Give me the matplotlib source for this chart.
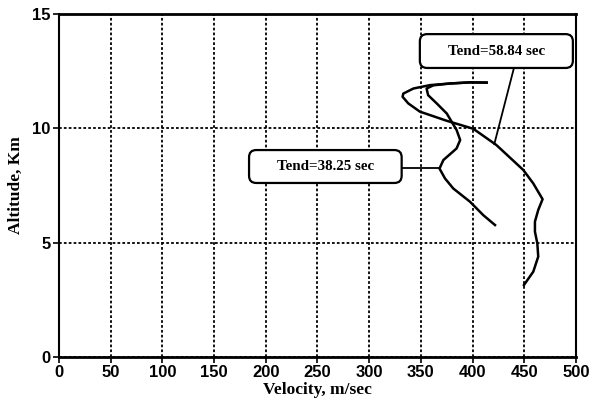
import matplotlib.pyplot as plt
from matplotlib.patches import FancyBboxPatch

# trajectory, Tend = 58.84 sec
vel_long = [413.6, 397.5, 378, 358.8, 342.7, 333, 332.3, 337.8, 349, 375, 400.7,
            423, 449, 458.7, 467.7, 463.5, 460.3, 460.3, 462.6, 463.5, 458.7, 449.7]
alt_long = [12.0, 12.01, 11.96, 11.89, 11.74, 11.52, 11.38, 11.09, 10.73, 10.33, 9.98,
            9.27, 8.18, 7.59, 6.9, 6.43, 5.92, 5.48, 4.97, 4.39, 3.73, 3.15]

# trajectory, Tend = 38.25 sec
vel_short = [413.6, 397.5, 378, 362, 355.5, 357, 365.3, 375, 384.5, 388, 384.5,
             371.7, 368, 373.3, 381.3, 397.5, 410.4, 421.7]
alt_short = [12.0, 12.01, 11.96, 11.88, 11.74, 11.45, 11.09, 10.65, 9.93, 9.49, 9.12,
             8.61, 8.24, 7.81, 7.37, 6.79, 6.2, 5.77]

labels = ["Tend=58.84 sec", "Tend=38.25 sec"]
# box (x0, y0, x1, y1) in data units, and leader line (from, to)
boxes = [(349, 12.64, 497, 14.12), (183.8, 7.61, 331.4, 9.05)]
leaders = [((440, 12.64), (421, 9.31)), ((331.4, 8.28), (367.8, 8.28))]

xticks = [0, 50, 100, 150, 200, 250, 300, 350, 400, 450, 500]
yticks = [0, 5, 10, 15]

fig = plt.figure(figsize=(5.93, 4.07), dpi=100)
ax = fig.add_axes([0.0995, 0.1229, 0.8718, 0.8427])

ax.plot(vel_long, alt_long, color="black", lw=1.8, solid_joinstyle="round")
ax.plot(vel_short, alt_short, color="black", lw=1.8, solid_joinstyle="round")

ax.set_xlim(0, 500)
ax.set_ylim(0, 15)
ax.set_xticks(xticks)
ax.set_yticks(yticks)
ax.grid(True, color="black", linestyle=(0, (1.5, 1.2)), linewidth=1.3)

tick_font = dict(family="Liberation Sans", weight="bold", size=12)
ax.set_xticklabels([str(t) for t in xticks], fontdict=tick_font)
ax.set_yticklabels([str(t) for t in yticks], fontdict=tick_font)
ax.tick_params(direction="out", length=4, width=1.2, pad=2)

for side in ["left", "right"]:
    ax.spines[side].set_linewidth(1.5)
for side in ["top", "bottom"]:
    ax.spines[side].set_linewidth(2.0)

label_font = dict(family="Liberation Serif", weight="bold", size=12.5)
ax.set_xlabel("Velocity, m/sec", fontdict=label_font, labelpad=1)
ax.set_ylabel("Altitude, Km", fontdict=label_font, labelpad=6)

# px per data unit, for round corners of the callout boxes
aspect = (0.8427 * 407 / 15) / (0.8718 * 593 / 500)
for text, (x0, y0, x1, y1), (p0, p1) in zip(labels, boxes, leaders):
    ax.plot([p0[0], p1[0]], [p0[1], p1[1]], color="black", lw=1.3)
    box = FancyBboxPatch((x0, y0), x1 - x0, y1 - y0,
                         boxstyle="round,pad=0,rounding_size=7",
                         mutation_aspect=1 / aspect,
                         facecolor="white", edgecolor="black", lw=1.6, zorder=3)
    ax.add_patch(box)
    ax.text((x0 + x1) / 2, (y0 + y1) / 2, text, ha="center", va="center",
            family="Liberation Serif", weight="bold", size=10.8, zorder=4)

fig.savefig("out.png", dpi=100)
